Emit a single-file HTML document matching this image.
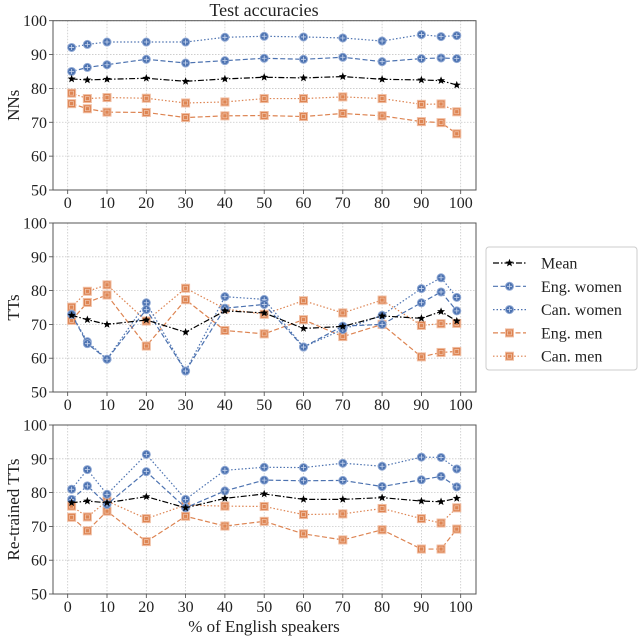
<!DOCTYPE html>
<html><head><meta charset="utf-8">
<style>
body{margin:0;background:#fff;}
svg{display:block;font-family:"Liberation Serif",serif;}
</style></head>
<body>
<svg id="chart" width="640" height="637" viewBox="0 0 640 637" xmlns="http://www.w3.org/2000/svg"></svg>
<script>
const xVals = [1,5,10,20,30,40,50,60,70,80,90,95,99];
const xTicks = [0,10,20,30,40,50,60,70,80,90,100];
const yTicks = [50,60,70,80,90,100];
const seriesNames = ["Mean","Eng. women","Can. women","Eng. men","Can. men"];
// Panel 1: NNs
const nnMean = [82.8,82.5,82.7,83,82.1,82.8,83.3,83.1,83.5,82.7,82.5,82.3,81];
const nnEngWomen = [85,86.2,87,88.6,87.5,88.2,88.9,88.6,89.2,87.9,88.8,89,88.8];
const nnCanWomen = [92.1,93,93.7,93.7,93.7,95.1,95.4,95.2,94.9,94,95.9,95.3,95.6];
const nnEngMen = [75.5,74,73,72.9,71.4,71.9,72,71.7,72.6,71.9,70.2,69.9,66.6];
const nnCanMen = [78.6,77,77.3,77.1,75.7,76,77,77,77.5,77,75.3,75.4,73.1];
// Panel 2: TTs
const ttMean = [72.7,71.4,70,71.3,67.7,74,73.4,68.8,69.4,72.5,71.8,73.8,71];
const ttEngWomen = [73,64.3,59.7,74.4,56.2,74.8,75.9,63.3,69.5,70,76.4,79.6,74];
const ttCanWomen = [73,64.9,59.7,76.4,56.2,78.2,77.4,63.3,68.5,72.7,80.6,83.8,78];
const ttEngMen = [71.2,76.5,78.7,63.6,77.3,68.2,67.2,71.4,66.4,70,60.4,61.7,62];
const ttCanMen = [75.1,79.8,81.7,71,80.7,74.6,73,77,73.4,77.2,69.7,70.2,70.3];
// Panel 3: Re-trained TTs
const rtMean = [77,77.5,77,78.8,75.5,78.3,79.6,78,78,78.5,77.5,77.3,78.3];
const rtEngWomen = [78,82,76.5,86.2,75.5,80.5,83.7,83.5,83.6,81.8,83.8,84.8,81.7];
const rtCanWomen = [81,86.8,79.5,91.3,78,86.6,87.5,87.4,88.7,87.8,90.5,90.4,87];
const rtEngMen = [72.7,68.7,74.5,65.5,73,70.1,71.5,67.8,66,69,63.3,63.3,69.2];
const rtCanMen = [76,72.8,77.5,72.3,76.3,76,75.9,73.5,73.7,75.3,72.3,71,75.5];

const svg = document.getElementById('chart');
const NS = "http://www.w3.org/2000/svg";
function mk(tag, attrs, parent){
  const e = document.createElementNS(NS, tag);
  for (const k in attrs) e.setAttribute(k, attrs[k]);
  (parent||svg).appendChild(e);
  return e;
}
const BLUE="#4c72b0", ORANGE="#dd8452";
const styles = [
  {color:"#000", dash:"6,2,1.5,2", marker:"star"},
  {color:BLUE, dash:"5,2.5", marker:"circle"},
  {color:BLUE, dash:"1.5,2", marker:"circle"},
  {color:ORANGE, dash:"5,2.5", marker:"square"},
  {color:ORANGE, dash:"1.5,2", marker:"square"}
];
const L=53, R=476;
function xS(v){ return 67.7 + v*3.93; }

function marker(g, type, cx, cy, color){
  if (type==="star"){
    let pts=[];
    for (let i=0;i<10;i++){
      const r = i%2===0?4.2:1.8;
      const a = -Math.PI/2 + i*Math.PI/5;
      pts.push((cx+r*Math.cos(a)).toFixed(2)+","+(cy+r*Math.sin(a)).toFixed(2));
    }
    const s = mk('polygon',{points:pts.join(' '),fill:'#000'},g);
    
    
  } else if (type==="circle"){
    const c = mk('circle',{cx:cx,cy:cy,r:4,fill:color,stroke:'#8fa8d4','stroke-width':1},g);
    
    
    mk('path',{d:`M${cx-2.5},${cy}H${cx+2.5}M${cx},${cy-2.5}V${cy+2.5}`,stroke:'#c9d6ee','stroke-width':0.8},g);
  } else {
    const q = mk('rect',{x:cx-4,y:cy-4,width:8,height:8,fill:color,stroke:'#f0bca0','stroke-width':1},g);
    
    
    mk('rect',{x:cx-2,y:cy-2,width:4,height:4,fill:'none',stroke:'#f3c8b0','stroke-width':0.7},g);
  }
}

function panel(name, top, bottom, ylabel, data){
  const g = mk('g',{});
  
  
  const yS = v => bottom - (v-50)/50*(bottom-top);
  xTicks.forEach(t=>{
    const gl = mk('line',{x1:xS(t),x2:xS(t),y1:top,y2:bottom,stroke:'#c8c8c8','stroke-width':0.8,'stroke-dasharray':'1.5,1.5'},g);
    
    
    mk('line',{x1:xS(t),x2:xS(t),y1:bottom,y2:bottom+4,stroke:'#444','stroke-width':0.8},g);
    const tl = mk('text',{x:xS(t),y:bottom+18,'text-anchor':'middle','font-size':16,fill:'#222'},g);
    tl.textContent = t;
    
    
  });
  yTicks.forEach(t=>{
    const gl = mk('line',{x1:L,x2:R,y1:yS(t),y2:yS(t),stroke:'#c8c8c8','stroke-width':0.8,'stroke-dasharray':'1.5,1.5'},g);
    
    
    mk('line',{x1:L-4,x2:L,y1:yS(t),y2:yS(t),stroke:'#444','stroke-width':0.8},g);
    const tl = mk('text',{x:L-6,y:yS(t)+5.5,'text-anchor':'end','font-size':16,fill:'#222'},g);
    tl.textContent = t;
    
    
  });
  const fr = mk('rect',{x:L,y:top,width:R-L,height:bottom-top,fill:'none',stroke:'#555','stroke-width':1},g);
  
  
  const yl = mk('text',{x:0,y:0,'text-anchor':'middle','font-size':17,fill:'#222',transform:`translate(19,${(top+bottom)/2}) rotate(-90)`},g);
  yl.textContent = ylabel;
  
  
  [4,3,2,1,0].forEach(i=>{
    const st = styles[i], vals = data[i];
    const sg = mk('g',{},g);
    
    
    const pts = vals.map((v,j)=>xS(xVals[j]).toFixed(2)+","+yS(v).toFixed(2)).join(' ');
    mk('polyline',{points:pts,fill:'none',stroke:st.color,'stroke-width':1.2,'stroke-dasharray':st.dash},sg);
    vals.forEach((v,j)=>marker(sg, st.marker, xS(xVals[j]), yS(v), st.color));
  });
}

const t = mk('text',{x:264,y:16,'text-anchor':'middle','font-size':18,fill:'#222'});
t.textContent = "Test accuracies";



panel('panel-nns', 20.7, 190, 'NNs', [nnMean,nnEngWomen,nnCanWomen,nnEngMen,nnCanMen]);
panel('panel-tts', 223, 392, 'TTs', [ttMean,ttEngWomen,ttCanWomen,ttEngMen,ttCanMen]);
panel('panel-retrained-tts', 425, 594, 'Re-trained TTs', [rtMean,rtEngWomen,rtCanWomen,rtEngMen,rtCanMen]);

const xt = mk('text',{x:264,y:632,'text-anchor':'middle','font-size':17,fill:'#222'});
xt.textContent = "% of English speakers";



const lg = mk('g',{});


mk('rect',{x:486,y:247,width:151,height:123,rx:3,fill:'#fff',stroke:'#ccc','stroke-width':1},lg);
seriesNames.forEach((n,i)=>{
  const y = 263 + i*23.3;
  const eg = mk('g',{},lg);
  
  
  mk('line',{x1:493,x2:526,y1:y,y2:y,stroke:styles[i].color,'stroke-width':1.2,'stroke-dasharray':styles[i].dash},eg);
  marker(eg, styles[i].marker, 509.5, y, styles[i].color);
  const tx = mk('text',{x:541,y:y+5.5,'font-size':16,fill:'#222'},eg);
  tx.textContent = n;
});
</script>
</body></html>
